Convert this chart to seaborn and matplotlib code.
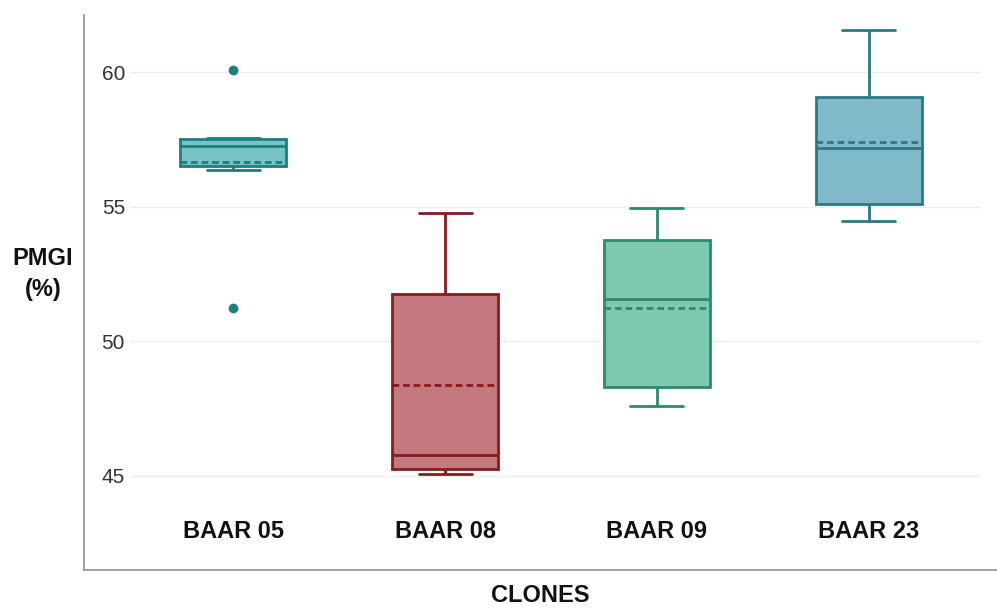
import matplotlib
matplotlib.use("Agg")
import matplotlib.pyplot as plt
import seaborn as sns
import pandas as pd

# ---- data (PMGI %, per clone) ----
clones = ["BAAR 05", "BAAR 08", "BAAR 09", "BAAR 23"]
pmgi_baar05 = [51.23, 56.36, 56.64, 57.25, 57.49, 57.53, 60.07]
pmgi_baar08 = [45.07, 45.15, 45.51, 46.01, 53.66, 54.76]
pmgi_baar09 = [47.58, 47.80, 49.76, 53.36, 53.88, 54.94]
pmgi_baar23 = [54.46, 54.80, 55.96, 58.38, 59.30, 61.56]
y_ticks = [45, 50, 55, 60]

fill_colors = ["#78c3c3", "#c47880", "#7dc8af", "#80b9c8"]
edge_colors = ["#1a7f7f", "#8b1a1e", "#2a8a6c", "#2a7888"]

values = [pmgi_baar05, pmgi_baar08, pmgi_baar09, pmgi_baar23]
df = pd.DataFrame({
    "clone": [c for c, v in zip(clones, values) for _ in v],
    "pmgi": [x for v in values for x in v],
})

sns.set_theme(style="white")
plt.rcParams["font.family"] = ["Liberation Sans", "DejaVu Sans"]

W, H = 997, 608
fig = plt.figure(figsize=(W / 100, H / 100), dpi=100)
ax = fig.add_axes([84 / W, (H - 570) / H, 913 / W, 555 / H])

for c, fc, ec in zip(clones, fill_colors, edge_colors):
    sns.boxplot(
        data=df[df["clone"] == c], x="clone", y="pmgi", order=clones,
        color=fc, linecolor=ec, saturation=1, width=0.5, linewidth=2,
        showmeans=True, meanline=True,
        meanprops={"color": ec, "linestyle": (0, (2.4, 1.4)), "linewidth": 2},
        flierprops={"marker": "o", "markerfacecolor": ec, "markeredgecolor": ec,
                    "markersize": 6},
        ax=ax, zorder=3,
    )

ax.set_xlim(-0.703, 3.604)
ax.set_ylim(41.49, 62.12)
ax.set_yticks(y_ticks)

# light horizontal gridlines (not spanning full frame)
ax.hlines(y_ticks, xmin=(130 - 84) / 913, xmax=(980 - 84) / 913,
          transform=ax.get_yaxis_transform(), color="#ececec", lw=1, zorder=0)

for side in ["top", "right"]:
    ax.spines[side].set_visible(False)
for side in ["left", "bottom"]:
    ax.spines[side].set_color("#9a9a9a")
    ax.spines[side].set_linewidth(1.3)

ax.tick_params(axis="y", length=0, pad=-29.5, labelsize=15, labelcolor="#333333")
ax.tick_params(axis="x", length=0, pad=-36, labelsize=17, labelcolor="#111111")
for lab in ax.get_xticklabels():
    lab.set_fontweight("bold")

ax.set_xlabel("CLONES", fontsize=17, fontweight="bold", color="#111111")
ax.xaxis.set_label_coords(0.5, -(595 - 570) / 555)
ax.xaxis.label.set_va("center")
ax.set_ylabel("PMGI\n(%)", fontsize=17, fontweight="bold", color="#111111",
              rotation=0, ha="center", va="center", linespacing=1.45)
ax.yaxis.set_label_coords((43 - 84) / 913, (570 - 274) / 555)

fig.savefig("out.png", dpi=100, facecolor="white")
